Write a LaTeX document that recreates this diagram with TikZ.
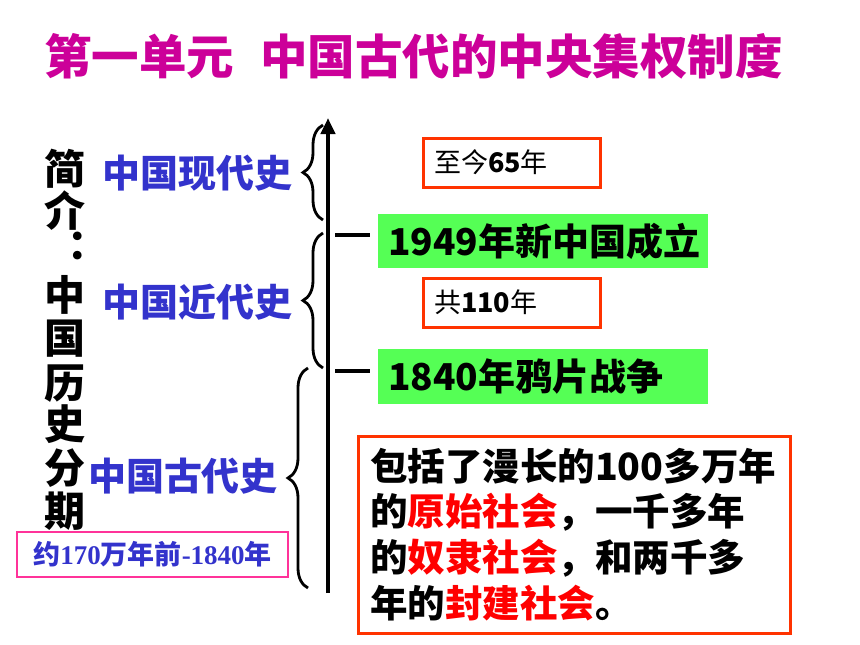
\documentclass[tikz,border=0pt]{standalone}
\usepackage{fontspec}
\setmainfont{Liberation Serif}
\newfontfamily\hei{Noto Sans CJK SC}
\usetikzlibrary{arrows.meta,decorations.pathreplacing}
\definecolor{titlemag}{RGB}{204,0,153}
\definecolor{eraBlue}{RGB}{51,51,204}
\definecolor{boxOrange}{RGB}{255,51,0}
\definecolor{boxPink}{RGB}{255,51,153}
\definecolor{eventGreen}{RGB}{85,255,85}
\definecolor{hlRed}{RGB}{255,0,0}
\begin{document}
\begin{tikzpicture}[x=1pt,y=-1pt,
  vchar/.style={inner sep=0pt,font=\hei\bfseries\fontsize{41}{41}\selectfont},
  eralabel/.style={inner sep=0pt,text=eraBlue,font=\hei\bfseries\fontsize{38}{40}\selectfont},
  eventbox/.style={fill=eventGreen,inner xsep=10pt,inner ysep=0pt,minimum width=330pt,text width=310pt,align=left,font=\hei\bfseries\fontsize{37}{40}\selectfont},
  spanbox/.style={draw=boxOrange,line width=3pt,inner xsep=11pt,inner ysep=0pt,minimum width=177pt,minimum height=49pt,text width=155pt,align=left,font=\hei\fontsize{27}{30}\selectfont},
  notebox/.style={draw=boxOrange,line width=3pt,inner xsep=12pt,inner ysep=0pt,minimum width=432pt,minimum height=197pt,text width=408pt,align=left,font=\hei\bfseries\fontsize{37.5}{45.7}\selectfont},
  rangebox/.style={draw=boxPink,line width=1.5pt,inner sep=0pt,minimum width=271pt,minimum height=45pt,text=eraBlue},
  bracestyle/.style={decorate,decoration={brace,amplitude=20pt},line width=2.8pt},
  tickline/.style={line width=4pt}
]
\useasboundingbox (0,0) rectangle (860,645);

% title
\node[inner sep=0pt,text=titlemag,font=\hei\bfseries\fontsize{47.5}{50}\selectfont] (title) at (413.5,56) {第一单元\hspace{26pt}中国古代的中央集权制度};

% vertical heading
\foreach \c/\x/\y [count=\i] in {简/65/168.5,介/65/210.5,：/88/246,中/65/295,国/65/339,历/65/383.5,史/65/424,分/65/468.5,期/65/511}
  \node[vchar] (v\i) at (\x,\y) {\c};

% era labels
\node[eralabel] (modern) at (197,173) {中国现代史};
\node[eralabel] (recent) at (197,302) {中国近代史};
\node[eralabel] (ancient) at (183,476) {中国古代史};

% range box
\node[rangebox] (range) at (152.5,554.5) {{\hei\bfseries\fontsize{27}{30}\selectfont 约}{\bfseries\fontsize{27}{30}\selectfont 170}{\hei\bfseries\fontsize{27}{30}\selectfont 万年前}{\bfseries\fontsize{27}{30}\selectfont -1840}{\hei\bfseries\fontsize{27}{30}\selectfont 年}};

% braces
\draw[bracestyle] (323,220) -- (323,125);
\draw[bracestyle] (323,368) -- (323,233);
\draw[bracestyle] (308,588) -- (308,368);

% time axis
\coordinate (axisbot) at (328,593);
\coordinate (axistop) at (328,118);
\draw[line width=4pt,-{Triangle[width=14pt,length=16pt]}] (axisbot) -- (axistop);

% ticks
\draw[tickline] (335,235) -- (370,235);
\draw[tickline] (335,371) -- (370,371);

% events
\node[eventbox,minimum height=54pt] (e1949) at (543,241) {1949年新中国成立};
\node[eventbox,minimum height=55pt] (e1840) at (543,376.5) {1840年鸦片战争};

% spans
\node[spanbox] (span65) at (511.5,162.5) {至今\textbf{65}年};
\node[spanbox] (span110) at (511.5,302.5) {共\textbf{110}年};

% note
\node[notebox] (note) at (574,534.5) {包括了漫长的100多万年\\的\textcolor{hlRed}{原始社会}，一千多年\\的\textcolor{hlRed}{奴隶社会}，和两千多\\年的\textcolor{hlRed}{封建社会}。};
\end{tikzpicture}
\end{document}
